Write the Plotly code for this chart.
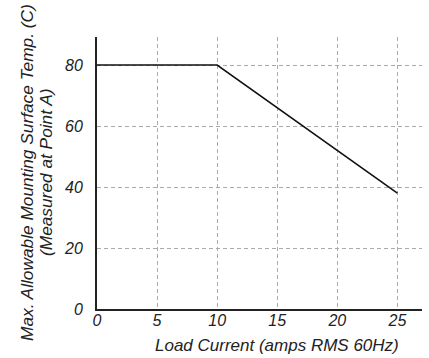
import plotly.graph_objects as go

load_current = [0, 10, 25]
max_temp = [80, 80, 38]
x_ticks = [0, 5, 10, 15, 20, 25]
y_ticks = [0, 20, 40, 60, 80]

fnt = "Liberation Sans, Arial, Helvetica, sans-serif"
L, R, T, B = 97, 7, 37, 49
PW, PH = 429 - L - R, 358 - T - B

def px_x(x):
    return (x - L) / PW

def px_y(y):
    return (358 - B - y) / PH

fig = go.Figure()
fig.add_trace(go.Scatter(x=load_current, y=max_temp, mode="lines",
                         line=dict(color="#111", width=1.6), showlegend=False,
                         hoverinfo="skip"))

tfont = dict(size=16, family=fnt, color="#222", style="italic")
fig.update_layout(
    width=429, height=358,
    margin=dict(l=L, r=R, t=T, b=B, autoexpand=False),
    paper_bgcolor="white", plot_bgcolor="white",
    font=dict(family=fnt, color="#222"),
    xaxis=dict(range=[0, 27.05], tickvals=x_ticks,
               showgrid=True, gridcolor="#aaa", griddash="4px,3px", gridwidth=1,
               showline=True, linecolor="#222", linewidth=2, zeroline=False,
               ticks="", ticklabelstandoff=-4, tickfont=tfont),
    yaxis=dict(range=[0, 89.2], tickvals=y_ticks,
               showgrid=True, gridcolor="#aaa", griddash="4px,3px", gridwidth=1,
               showline=True, linecolor="#222", linewidth=2, zeroline=False,
               ticks="", ticklabelstandoff=9, tickfont=tfont),
    annotations=[
        dict(text="<i>Load Current (amps RMS 60Hz)</i>", xref="paper", yref="paper",
             x=px_x(277), y=px_y(345), showarrow=False,
             font=dict(size=17, family=fnt, color="#222"), xanchor="center", yanchor="middle"),
        dict(text="<i>Max. Allowable Mounting Surface Temp. (C)</i>",
             xref="paper", yref="paper", x=px_x(27), y=px_y(173),
             showarrow=False, textangle=-90,
             font=dict(size=17.3, family=fnt, color="#222"), xanchor="center", yanchor="middle"),
        dict(text="<i>(Measured at Point A)</i>",
             xref="paper", yref="paper", x=px_x(46), y=px_y(173),
             showarrow=False, textangle=-90,
             font=dict(size=17.3, family=fnt, color="#222"), xanchor="center", yanchor="middle"),
    ],
)

fig.write_html("out.html", config={"displayModeBar": False},
               post_script="document.body.style.margin='0';")
